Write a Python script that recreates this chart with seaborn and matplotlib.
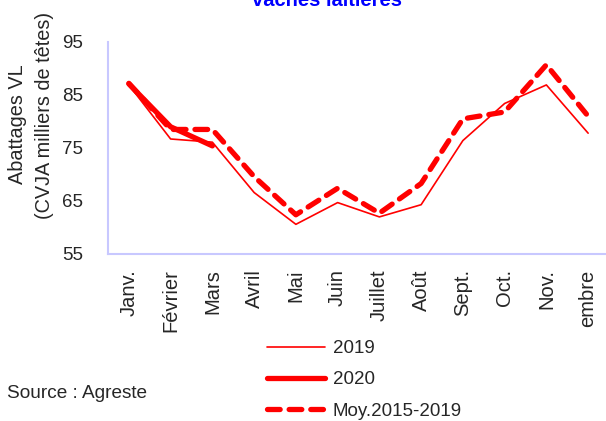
import numpy as np
import pandas as pd
import matplotlib
matplotlib.use("Agg")
import matplotlib.pyplot as plt
import seaborn as sns

months = ["Janv.", "Février", "Mars", "Avril", "Mai", "Juin", "Juillet",
          "Août", "Sept.", "Oct.", "Nov.", "embre"]
v2019 = [86.9, 76.7, 76.1, 66.6, 60.6, 64.7, 62.0, 64.3, 76.4, 83.4, 86.9, 77.8]
v2020 = [87.1, 79.0, 75.4]
vmoy = [87.2, 78.5, 78.5, 69.6, 62.4, 67.4, 62.7, 68.3, 80.5, 81.8, 90.7, 81.0]
yticks = [55, 65, 75, 85, 95]

sns.set_style("white")
plt.rcParams["font.family"] = ["Liberation Sans", "DejaVu Sans"]

red = "#FF0000"
axis_col = "#C8C8FF"

fig = plt.figure(figsize=(6.06, 4.21), dpi=100)
ax = fig.add_axes([108/606, 1-254/421, 501/606, 212/421])

x_all = np.arange(len(months))
df19 = pd.DataFrame({"x": x_all, "y": v2019})
df20 = pd.DataFrame({"x": x_all[:len(v2020)], "y": v2020})
dfm = pd.DataFrame({"x": x_all, "y": vmoy})

sns.lineplot(data=df19, x="x", y="y", ax=ax, color=red, linewidth=1.2, label="2019")
sns.lineplot(data=df20, x="x", y="y", ax=ax, color=red, linewidth=3.8, label="2020")
sns.lineplot(data=dfm, x="x", y="y", ax=ax, color=red, linewidth=3.8, label="Moy.2015-2019")
lines = ax.get_lines()
lines[1].set_solid_capstyle("round")
lines[2].set_dashes((2.4, 1.7))
lines[2].set_dash_capstyle("round")

ax.set_xlim(-0.5, 11.5)
ax.set_ylim(55, 95)
ax.set_yticks(yticks)
ax.set_yticklabels([str(t) for t in yticks], fontsize=13.5)
ax.set_xticks(np.arange(-0.5, 12, 1))
ax.set_xticklabels([])
ax.set_xticks(x_all, minor=True)
ax.set_xticklabels(months, minor=True, rotation=90, fontsize=14.5)
ax.tick_params(axis="x", which="minor", length=0, pad=11)
ax.tick_params(axis="both", which="major", length=4, width=1.2, color=axis_col, direction="out")
ax.tick_params(axis="y", pad=14)
ax.set_xlabel("")
ax.set_ylabel("")
for s in ["top", "right"]:
    ax.spines[s].set_visible(False)
for s in ["left", "bottom"]:
    ax.spines[s].set_color(axis_col)
    ax.spines[s].set_linewidth(1.5)

handles, labels = ax.get_legend_handles_labels()
ax.get_legend().remove()
fig.legend(handles, labels, loc="upper left", bbox_to_anchor=(267/606, 1-340/421),
           frameon=False, fontsize=13.5, handlelength=3.1, handletextpad=0.4,
           labelspacing=0.75, borderaxespad=0, borderpad=0)

fig.text(18/606, 1-124/421, "Abattages VL", rotation=90,
         ha="center", va="center", fontsize=14.3)
fig.text(45/606, 1-115/421, "(CVJA milliers de têtes)", rotation=90,
         ha="center", va="center", fontsize=14.3)
fig.text(327/606, 1.0, "vaches laitières", color="#0000FF", fontweight="bold",
         ha="center", va="center", fontsize=14.5)
fig.text(7/606, 1-393/421, "Source : Agreste", ha="left", va="center", fontsize=13.7)

fig.savefig("out.png", dpi=100)
